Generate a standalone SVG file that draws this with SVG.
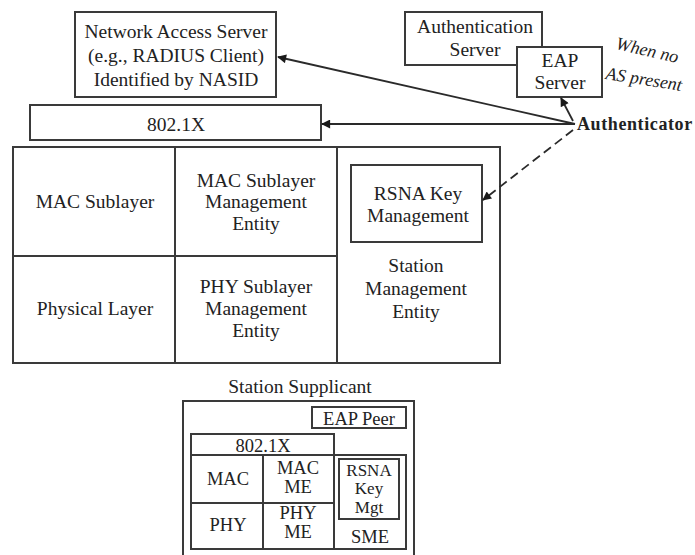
<svg xmlns="http://www.w3.org/2000/svg" width="695" height="555" viewBox="0 0 695 555">
<style>
.b{fill:#fff;stroke:#3a3a3a;stroke-width:2}
.l{fill:none;stroke:#3a3a3a;stroke-width:2}
text{font-family:"Liberation Serif","Times New Roman",serif;font-size:19.5px;fill:#222;text-anchor:middle}
.s{font-size:18.5px}
.c{stroke:#2a2a2a;stroke-width:1.8;fill:none}
</style>
<defs>
<marker id="ah" viewBox="0 0 10 10" refX="9" refY="5" markerWidth="10" markerHeight="9" markerUnits="userSpaceOnUse" orient="auto">
<path d="M0,0 L10,5 L0,10 z" fill="#1a1a1a"/>
</marker>
</defs>
<rect width="695" height="555" fill="#fff"/>

<g id="nas">
<rect class="b" x="75" y="12" width="201" height="85"/>
<text x="176" y="38">Network Access Server</text>
<text x="176" y="62">(e.g., RADIUS Client)</text>
<text x="176" y="86">Identified by NASID</text>
</g>

<g id="dot1x">
<rect class="b" x="30" y="105" width="291" height="35"/>
<text x="176" y="131">802.1X</text>
</g>

<g id="auth-server">
<rect class="b" x="405" y="12" width="137" height="53"/>
<text x="475" y="33">Authentication</text>
<text x="475" y="56">Server</text>
</g>

<g id="eap-server">
<rect class="b" x="517" y="47" width="85" height="50"/>
<text x="560" y="67">EAP</text>
<text x="560" y="89">Server</text>
</g>

<g id="when-no">
<text transform="translate(646,56) rotate(13)" style="font-style:italic;font-size:18px">When no</text>
<text transform="translate(643,85) rotate(9)" style="font-style:italic;font-size:18px">AS present</text>
</g>

<g id="authenticator">
<text x="577" y="130" style="text-anchor:start;font-weight:bold;font-size:18px;letter-spacing:0.6px">Authenticator</text>
</g>

<g id="station-grid">
<rect class="b" x="13" y="147" width="487" height="216"/>
<line class="l" x1="175" y1="147" x2="175" y2="363"/>
<line class="l" x1="337" y1="147" x2="337" y2="363"/>
<line class="l" x1="13" y1="256" x2="337" y2="256"/>
</g>

<g id="mac-sublayer">
<text x="95" y="208">MAC Sublayer</text>
</g>
<g id="mac-me">
<text x="256" y="187">MAC Sublayer</text>
<text x="256" y="208">Management</text>
<text x="256" y="230">Entity</text>
</g>
<g id="physical-layer">
<text x="95" y="315">Physical Layer</text>
</g>
<g id="phy-me">
<text x="256" y="293">PHY Sublayer</text>
<text x="256" y="315">Management</text>
<text x="256" y="337">Entity</text>
</g>
<g id="sme">
<text x="416" y="272">Station</text>
<text x="416" y="295">Management</text>
<text x="416" y="318">Entity</text>
</g>
<g id="rsna-km">
<rect class="b" x="351" y="165" width="131" height="77"/>
<text x="418" y="200">RSNA Key</text>
<text x="418" y="222">Management</text>
</g>

<g id="supplicant">
<text x="300" y="393">Station Supplicant</text>
<rect class="b" x="183" y="401" width="231" height="160"/>
</g>
<g id="sup-eap-peer">
<rect class="b" x="312" y="407" width="94" height="21"/>
<text class="s" x="359" y="425">EAP Peer</text>
</g>
<g id="sup-dot1x">
<rect class="b" x="191" y="434" width="143" height="21"/>
<text class="s" x="263" y="452">802.1X</text>
</g>
<g id="sup-grid">
<rect class="b" x="191" y="455" width="215" height="94"/>
<line class="l" x1="263" y1="455" x2="263" y2="549"/>
<line class="l" x1="334" y1="455" x2="334" y2="549"/>
<line class="l" x1="191" y1="503" x2="334" y2="503"/>
</g>
<g id="sup-mac"><text class="s" x="228" y="485">MAC</text></g>
<g id="sup-macme"><text class="s" x="298" y="474">MAC</text><text class="s" x="298" y="493">ME</text></g>
<g id="sup-phy"><text class="s" x="228" y="531">PHY</text></g>
<g id="sup-phyme"><text class="s" x="298" y="519">PHY</text><text class="s" x="298" y="538">ME</text></g>
<g id="sup-rsna">
<rect class="b" x="339" y="459" width="60" height="60"/>
<text x="369" y="476" style="font-size:17px">RSNA</text>
<text x="369" y="494" style="font-size:17px">Key</text>
<text x="369" y="513" style="font-size:17px">Mgt</text>
</g>
<g id="sup-sme"><text class="s" x="370" y="543">SME</text></g>

<g id="connectors">
<line class="c" x1="575" y1="124" x2="278" y2="57" marker-end="url(#ah)"/>
<line class="c" x1="575" y1="124" x2="322" y2="124" marker-end="url(#ah)"/>
<line class="c" x1="573" y1="121" x2="561" y2="98" marker-end="url(#ah)"/>
<line class="c" x1="573" y1="130" x2="483" y2="200" stroke-dasharray="9,5" marker-end="url(#ah)"/>
</g>
</svg>
